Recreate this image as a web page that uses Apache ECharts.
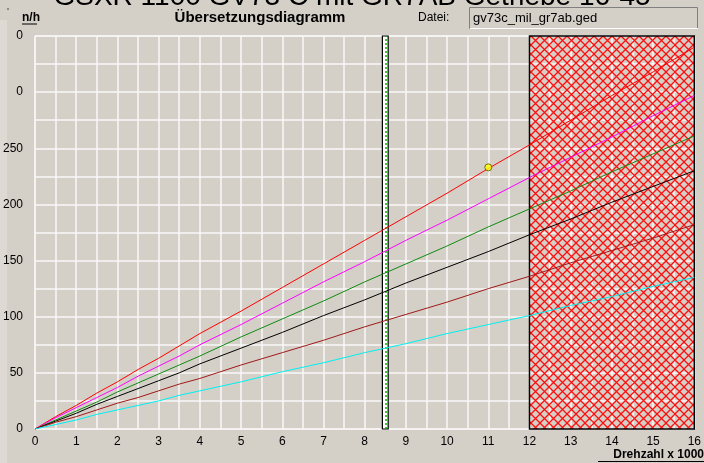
<!DOCTYPE html>
<html>
<head>
<meta charset="utf-8">
<script src="https://cdn.jsdelivr.net/npm/echarts@6/dist/echarts.min.js"></script>
<style>
html,body{margin:0;padding:0;background:#d4d0c8;}
#c{width:704px;height:463px;}
</style>
</head>
<body>
<div id="c"></div>
<script>
// Drehzahl x 1000
const rpm = [0, 0.5, 1, 1.5, 2, 2.5, 3, 3.5, 4, 5, 6, 7, 8, 9, 10, 11, 12, 13, 14, 15, 16];
// speeds per gear (km/h)
const gear6 = [0, 11, 21, 32, 42, 53, 63, 74, 85, 105, 126, 147, 168, 189, 210, 232, 253, 275, 297, 318, 340];
const gear5 = [0, 10, 19, 28, 37, 47, 56, 65, 75, 93, 112, 131, 149, 168, 186, 205, 224, 242, 260, 279, 297];
const gear4 = [0, 8, 16, 24, 33, 41, 49, 57, 65, 82, 98, 114, 131, 147, 163, 180, 196, 212, 229, 245, 261];
const gear3 = [0, 7, 14, 22, 29, 36, 43, 50, 58, 72, 86, 101, 115, 130, 144, 158, 173, 187, 202, 216, 230];
const gear2 = [0, 6, 11, 17, 23, 28, 34, 40, 45, 57, 68, 79, 91, 102, 113, 125, 136, 148, 159, 170, 182];
const gear1 = [0, 4, 8, 13, 17, 21, 25, 30, 34, 42, 51, 59, 68, 76, 85, 93, 101, 110, 118, 127, 135];
const gearColors = ['#ff0000', '#ff00ff', '#108a10', '#000000', '#a01818', '#00f0f0'];
const yTickValues = [0, 50, 100, 150, 200, 250, 300, 350];
const yTickLabels = ['0', '50', '100', '150', '200', '250', '0', '0'];
const markerPoint = [11, 233];
const markerRpm = 8.5;
const redZone = [12, 16];

const pat = document.createElement('canvas');
pat.width = 9; pat.height = 9;
const pc = pat.getContext('2d');
pc.strokeStyle = '#ff1010';
pc.lineWidth = 1.3;
pc.beginPath();
pc.moveTo(0, 0); pc.lineTo(9, 9);
pc.moveTo(9, 0); pc.lineTo(0, 9);
pc.stroke();

const chart = echarts.init(document.getElementById('c'));
const gears = [gear6, gear5, gear4, gear3, gear2, gear1];
const lineSeries = gears.map((g, i) => ({
  type: 'line', data: rpm.map((r, j) => [r, g[j]]), showSymbol: false, symbol: 'none',
  lineStyle: { color: gearColors[i], width: 1 }, z: 5, animation: false
}));
const font = "'Liberation Sans Narrow','Liberation Sans',Arial,sans-serif";
chart.setOption({
  backgroundColor: '#d4d0c8',
  animation: false,
  grid: { left: 35, right: 7, top: 36, bottom: 34, show: true, borderColor: '#f8f8f8', borderWidth: 1 },
  xAxis: {
    type: 'value', min: 0, max: 16, interval: 1,
    axisLine: { show: false }, axisTick: { show: false },
    axisLabel: { color: '#000', fontFamily: font, fontSize: 12, margin: 7 },
    splitLine: { lineStyle: { color: '#f8f8f8', width: 1.5 } },
    minorTick: { show: false, splitNumber: 2 },
    minorSplitLine: { show: true, lineStyle: { color: '#f8f8f8', width: 1.5 } }
  },
  yAxis: {
    type: 'value', min: 0, max: 350, interval: 50,
    axisLine: { show: false }, axisTick: { show: false },
    axisLabel: { color: '#000', fontFamily: font, fontSize: 12, margin: 12, padding: [6, 0, 0, 0],
      formatter: v => { const k = yTickValues.indexOf(v); return k >= 0 ? yTickLabels[k] : ''; } },
    splitLine: { lineStyle: { color: '#f8f8f8', width: 1.5 } },
    minorTick: { show: false, splitNumber: 2 },
    minorSplitLine: { show: true, lineStyle: { color: '#f8f8f8', width: 1.5 } }
  },
  series: [
    { type: 'line', data: [], z: 2,
      markArea: { silent: true,
        data: [
          [{ xAxis: redZone[0], itemStyle: { color: { image: pat, repeat: 'repeat' }, borderColor: '#000', borderWidth: 1.5 } }, { xAxis: redZone[1] }],
          [{ xAxis: markerRpm - 0.07, itemStyle: { color: '#ffffff', borderColor: '#000', borderWidth: 1.2 } }, { xAxis: markerRpm + 0.07 }]
        ] }
    },
    { type: 'line', data: [], z: 6,
      markLine: { silent: true, symbol: 'none', label: { show: false },
        lineStyle: { color: '#00b000', type: [2, 2], width: 1.5 },
        data: [{ xAxis: markerRpm }] }
    },
    ...lineSeries,
    { type: 'scatter', data: [markerPoint], symbol: 'circle', symbolSize: 7, z: 10,
      itemStyle: { color: '#ffff00', borderColor: '#505000', borderWidth: 1 } }
  ],
  graphic: [
    { type: 'rect', left: 0, top: 20, shape: { width: 7, height: 443 }, style: { fill: '#dedad3' }, z: -1 },
    { type: 'text', x: 352, y: 11, style: { text: 'GSXR 1100 GV73 C mit GR7AB Getriebe 16-45', font: "28px 'Liberation Sans',Arial,sans-serif", fill: '#000', align: 'center', verticalAlign: 'bottom' } },
    { type: 'text', x: 22, y: 18, style: { text: 'n/h', font: "bold 12px " + font, fill: '#000', align: 'left', verticalAlign: 'middle' } },
    { type: 'line', shape: { x1: 22, y1: 24, x2: 37, y2: 24 }, style: { stroke: '#000', lineWidth: 1 } },
    { type: 'circle', shape: { cx: 8, cy: 9, r: 0.8 }, style: { fill: '#333' } },
    { type: 'text', x: 260, y: 18, style: { text: 'Übersetzungsdiagramm', font: "bold 15px " + font, fill: '#000', align: 'center', verticalAlign: 'middle' } },
    { type: 'text', x: 418, y: 18, style: { text: 'Datei:', font: "12px " + font, fill: '#000', align: 'left', verticalAlign: 'middle' } },
    { type: 'rect', shape: { x: 469.5, y: 7.5, width: 228, height: 21 }, style: { fill: '#d4d0c8', stroke: '#808080', lineWidth: 1 } },
    { type: 'line', shape: { x1: 470, y1: 28.5, x2: 698, y2: 28.5 }, style: { stroke: '#ffffff', lineWidth: 1 } },
    { type: 'text', x: 473, y: 18, style: { text: 'gv73c_mil_gr7ab.ged', font: "13px " + font, fill: '#000', align: 'left', verticalAlign: 'middle' } },
    { type: 'text', x: 704, y: 455, style: { text: 'Drehzahl x 1000', font: "bold 12px " + font, fill: '#000', align: 'right', verticalAlign: 'middle' } },
    { type: 'line', shape: { x1: 598, y1: 461.5, x2: 704, y2: 461.5 }, style: { stroke: '#000', lineWidth: 1 } }
  ]
});
</script>
</body>
</html>
